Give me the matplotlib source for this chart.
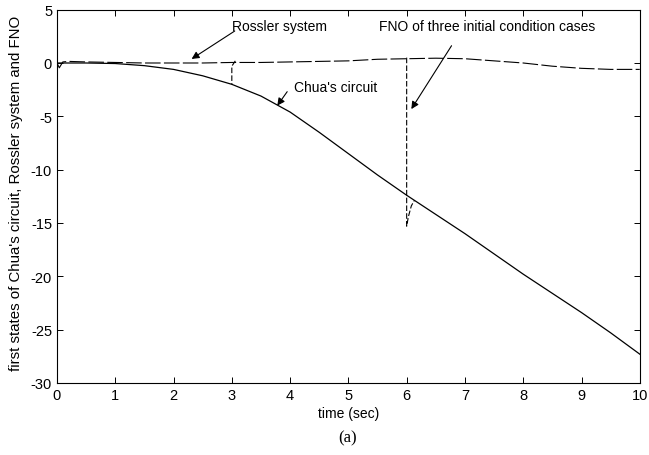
import matplotlib
matplotlib.use("Agg")
import matplotlib.pyplot as plt

# Chua's circuit, first state
chua_t = [0, 0.5, 1.0, 1.5, 2.0, 2.5, 3.0, 3.5, 4.0, 4.5, 5.0, 5.5, 6.0,
          6.5, 7.0, 7.5, 8.0, 8.5, 9.0, 9.5, 10.0]
chua_x = [0.0, 0.0, -0.05, -0.25, -0.6, -1.2, -2.0, -3.1, -4.6, -6.5, -8.5,
          -10.5, -12.4, -14.2, -16.0, -17.9, -19.8, -21.6, -23.4, -25.3, -27.3]

# Rossler system, first state
ross_t = [0, 0.04, 0.1, 0.2, 0.5, 1.0, 1.5, 2.0, 2.5, 3.0, 3.5, 4.0, 4.5,
          5.0, 5.5, 6.0, 6.5, 7.0, 7.5, 8.0, 8.5, 9.0, 9.5, 10.0]
ross_x = [0.0, -0.45, 0.1, 0.15, 0.1, 0.05, 0.0, 0.0, 0.0, 0.05, 0.05, 0.1,
          0.15, 0.2, 0.35, 0.4, 0.45, 0.4, 0.2, 0.0, -0.3, -0.5, -0.6, -0.6]

# FNO switching transients
fno3_t = [3.06, 3.0, 3.0]
fno3_x = [0.2, -0.3, -2.0]
fno6_t = [6.0, 6.0, 6.03, 6.08, 6.13]
fno6_x = [0.5, -15.3, -14.4, -13.4, -12.9]

plt.rcParams['font.family'] = ['Liberation Sans', 'DejaVu Sans']
plt.rcParams['axes.unicode_minus'] = False

fig = plt.figure(figsize=(6.49, 4.56), dpi=100)
ax = fig.add_axes([0.0878, 0.158, 0.898, 0.8186])

ax.plot(chua_t, chua_x, color='k', lw=0.9)
ax.plot(ross_t, ross_x, color='k', lw=0.8, linestyle=(0, (14, 3)))
ax.plot(fno3_t, fno3_x, color='k', lw=0.8, linestyle=(0, (5, 2)))
ax.plot(fno6_t, fno6_x, color='k', lw=0.8, linestyle=(0, (5, 2)))

ax.set_xlim(0, 10)
ax.set_ylim(-30, 5)
ax.set_xticks(range(0, 11))
ax.set_yticks(range(-30, 6, 5))
ax.tick_params(direction='in', top=True, right=True, length=4, width=0.7,
               labelsize=10.5)
for s in ax.spines.values():
    s.set_linewidth(0.8)

ax.set_xlabel('time (sec)', fontsize=10)
ax.xaxis.labelpad = 3
fig.text(16 / 649, 1 - 193 / 456,
         "first states of Chua's circuit, Rossler system and FNO",
         rotation=90, ha='center', va='center', fontsize=10.8)

arrow = dict(arrowstyle='-|>', color='k', lw=0.8, mutation_scale=11,
             shrinkA=0, shrinkB=0)
ax.text(3.0, 3.47, 'Rossler system', fontsize=10, va='center')
ax.annotate('', xy=(2.31, 0.38), xytext=(3.05, 3.0), arrowprops=arrow)
ax.text(5.53, 3.5, 'FNO of three initial condition cases', fontsize=10, va='center')
ax.annotate('', xy=(6.08, -4.32), xytext=(6.77, 1.62), arrowprops=arrow)
ax.text(4.07, -2.27, "Chua's circuit", fontsize=10, va='center')
ax.annotate('', xy=(3.78, -4.0), xytext=(3.95, -2.69), arrowprops=arrow)

fig.text(348 / 649, 1 - 438 / 456, '(a)', ha='center', va='center',
         fontsize=12, family='Liberation Serif')

fig.savefig('out.png', dpi=100)
